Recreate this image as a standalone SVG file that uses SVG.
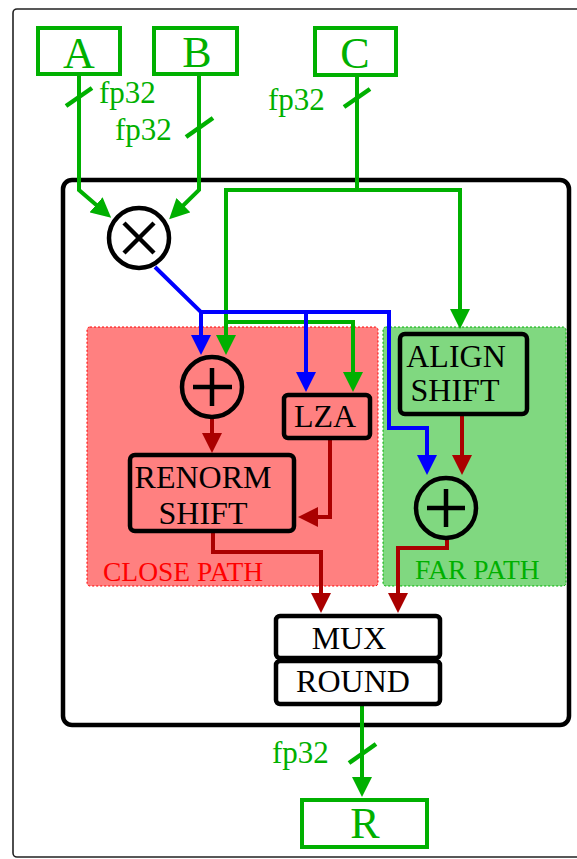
<svg xmlns="http://www.w3.org/2000/svg" width="577" height="859" viewBox="0 0 577 859">
<style>
text{font-family:"Liberation Serif","Times New Roman",serif}
.io{fill:#fff;stroke:#00b000;stroke-width:4}
.iot{fill:#00b000;font-size:44px;text-anchor:middle}
.fp{fill:#00b000;font-size:31px}
.blk{fill:none;stroke:#000;stroke-width:4.5}
.lbl{fill:#000;font-size:32px;text-anchor:middle}
.g{fill:none;stroke:#00b000;stroke-width:4;marker-end:url(#ag)}
.b{fill:none;stroke:#0000ff;stroke-width:4;marker-end:url(#ab)}
.r{fill:none;stroke:#aa0000;stroke-width:4;marker-end:url(#ar)}
.sl{stroke:#00b000;stroke-width:4.5}
.op{stroke:#000;stroke-width:4.5}
</style>
<defs>
<marker id="ag" viewBox="0 0 10 10" refX="5" refY="5" markerWidth="5" markerHeight="5" orient="auto"><path d="M0,0 L10,5 L0,10 z" fill="#00b000"/></marker>
<marker id="ab" viewBox="0 0 10 10" refX="5" refY="5" markerWidth="5" markerHeight="5" orient="auto"><path d="M0,0 L10,5 L0,10 z" fill="#0000ff"/></marker>
<marker id="ar" viewBox="0 0 10 10" refX="5" refY="5" markerWidth="5" markerHeight="5" orient="auto"><path d="M0,0 L10,5 L0,10 z" fill="#aa0000"/></marker>
</defs>
<rect x="13" y="9" width="590" height="848" rx="4" fill="#fff" stroke="#222" stroke-width="1.6"/>
<rect id="fma" x="63" y="180" width="506" height="545" rx="9" fill="none" stroke="#000" stroke-width="4.5"/>
<g id="close-path">
<rect x="87" y="327" width="291" height="259" rx="3" fill="#ff8080" stroke="#ff0000" stroke-width="1" stroke-dasharray="2,2"/>
<text x="103" y="581" fill="#ff0000" font-size="27.5">CLOSE PATH</text>
</g>
<g id="far-path">
<rect x="383" y="327" width="183" height="259" rx="3" fill="#80d880" stroke="#00b000" stroke-width="1" stroke-dasharray="2,2"/>
<text x="415" y="579" fill="#00b000" font-size="27.5">FAR PATH</text>
</g>
<g id="connectors">
<path class="g" d="M79,74 V190 L103.6,211.3"/>
<path class="g" d="M199,74 V190 L176.3,212.2"/>
<path class="g" d="M357,75 V190 H226 V345"/>
<path class="g" d="M357,190 H460 V319"/>
<path class="g" d="M226,322 H353 V382"/>
<path class="g" d="M362,704 V787"/>
<path class="b" d="M155,267 L201,312 V345"/>
<path class="b" d="M201,312 H389 V428 H427 V465"/>
<path class="b" d="M306,312 V382"/>
<path class="r" d="M212,418 V443"/>
<path class="r" d="M330,438 V517 H308"/>
<path class="r" d="M213,532 V552 H321 V603"/>
<path class="r" d="M447,539 V548 H398 V603"/>
<path class="r" d="M462,415 V465"/>
<line class="sl" x1="66" y1="106" x2="92" y2="88"/>
<line class="sl" x1="186" y1="137" x2="213" y2="118"/>
<line class="sl" x1="344" y1="107" x2="370" y2="89"/>
<line class="sl" x1="349" y1="763" x2="376" y2="744"/>
<text class="fp" x="99" y="103">fp32</text>
<text class="fp" x="115" y="140">fp32</text>
<text class="fp" x="268" y="110">fp32</text>
<text class="fp" x="272" y="763">fp32</text>
</g>
<g id="A"><rect class="io" x="38" y="28" width="82" height="46"/><text class="iot" x="79" y="68">A</text></g>
<g id="B"><rect class="io" x="154" y="28" width="83" height="46"/><text class="iot" x="197" y="67">B</text></g>
<g id="C"><rect class="io" x="315" y="28" width="81" height="47"/><text class="iot" x="355" y="68">C</text></g>
<g id="R"><rect class="io" x="302" y="800" width="125" height="47"/><text class="iot" x="365" y="838">R</text></g>
<g id="mult"><circle cx="139" cy="238" r="30" fill="#fff" stroke="#000" stroke-width="4.5"/><line class="op" x1="124" y1="223" x2="154" y2="253"/><line class="op" x1="154" y1="223" x2="124" y2="253"/></g>
<g id="add-close"><circle cx="212" cy="387" r="30" fill="none" stroke="#000" stroke-width="4.5"/><line class="op" x1="193" y1="387" x2="232" y2="387"/><line class="op" x1="212" y1="368" x2="212" y2="406"/></g>
<g id="add-far"><circle cx="446" cy="508" r="30" fill="none" stroke="#000" stroke-width="4.5"/><line class="op" x1="427" y1="508" x2="465" y2="508"/><line class="op" x1="446" y1="489" x2="446" y2="527"/></g>
<g id="lza"><rect class="blk" x="284" y="395" width="86" height="43" rx="4"/><text class="lbl" x="325" y="427">LZA</text></g>
<g id="renorm"><rect class="blk" x="130" y="455" width="164" height="76" rx="5"/><text class="lbl" x="203" y="488">RENORM</text><text class="lbl" x="203" y="524">SHIFT</text></g>
<g id="align"><rect class="blk" x="400" y="334" width="127" height="80" rx="5"/><text class="lbl" x="456" y="367">ALIGN</text><text class="lbl" x="455" y="401">SHIFT</text></g>
<g id="mux"><rect class="blk" x="276" y="616" width="164" height="42" rx="4" fill="#fff"/><text class="lbl" x="349" y="649">MUX</text></g>
<g id="round"><rect class="blk" x="276" y="661" width="164" height="43" rx="4" fill="#fff"/><text class="lbl" x="353" y="692">ROUND</text></g>
</svg>
